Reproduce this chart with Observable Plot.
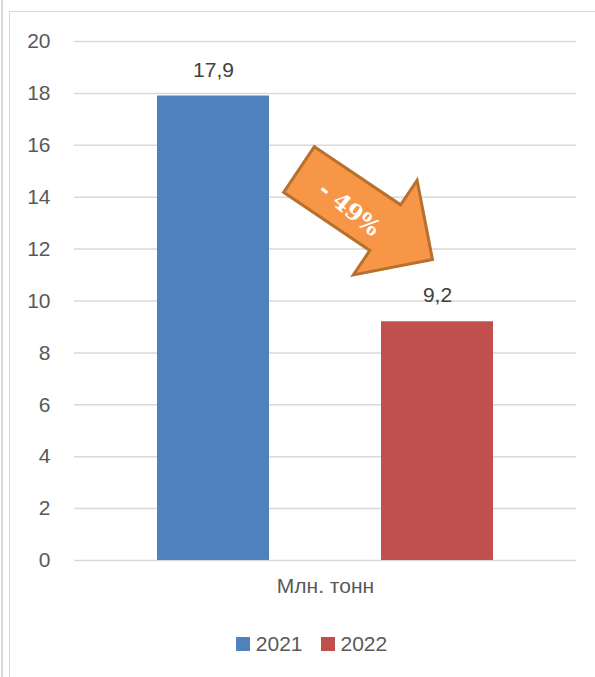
<!DOCTYPE html>
<html>
<head>
<meta charset="utf-8">
<script src="https://cdn.jsdelivr.net/npm/d3@7"></script>
<script src="https://cdn.jsdelivr.net/npm/@observablehq/plot@0.6"></script>
<style>
  html, body { margin: 0; padding: 0; background: #fff; }
  body { width: 595px; height: 677px; position: relative; overflow: hidden; font-family: "Liberation Sans", Arial, sans-serif; }
  #edge { position: absolute; left: 1px; top: 0; width: 1.5px; height: 677px; background: #d9d9d9; }
  #frame { position: absolute; left: 9px; top: 11px; right: -2px; bottom: -2px; border-left: 1.5px solid #d9d9d9; border-top: 1.5px solid #d9d9d9; }
  #chart { position: absolute; left: 0; top: 0; }
  #legend { position: absolute; left: 0; top: 632px; width: 595px; display: flex; justify-content: center; padding-left: 28px; box-sizing: border-box; font-size: 21px; color: #595959; }
  .item { display: flex; align-items: center; margin: 0 9px; }
  .sw { width: 14px; height: 14px; margin-right: 6px; }
</style>
</head>
<body>
<div id="edge"></div>
<div id="frame"></div>
<div id="chart"></div>
<div id="legend"></div>
<script>
const years = ["2021", "2022"];
const values = [17.9, 9.2];
const colors = ["#4F81BD", "#C0504D"];
const yTicks = [0, 2, 4, 6, 8, 10, 12, 14, 16, 18, 20];
const categoryLabel = "Млн. тонн";
const changeLabel = "- 49%";

const data = years.map((y, i) => ({year: y, value: values[i]}));
const fmt = v => v.toLocaleString("ru-RU");

function arrowMark(index, scales) {
  const x = scales.x, y = scales.y;
  const bw = typeof x.bandwidth === "function" ? x.bandwidth() : 112;
  const tx = x(years[0]) + bw + 30;
  const ty = y(values[0]) + 74;
  const g = d3.create("svg:g");
  const pts = [[0, -27.5], [104, -27.5], [104, -57], [161, 0], [104, 57], [104, 27.5], [0, 27.5]];
  g.append("polygon")
    .attr("points", pts.map(p => p.join(",")).join(" "))
    .attr("transform", `translate(${tx},${ty}) rotate(34)`)
    .attr("fill", "#F79646")
    .attr("stroke", "#B8702F")
    .attr("stroke-width", 3)
    .attr("stroke-linejoin", "miter");
  g.append("text")
    .attr("transform", `translate(${tx},${ty}) rotate(34) translate(64,4) rotate(5)`)
    .attr("text-anchor", "middle")
    .attr("dy", "0.35em")
    .attr("fill", "#ffffff")
    .attr("style", "font-family: 'DejaVu Serif', 'Liberation Serif', serif; font-weight: bold; font-size: 23px;")
    .text(changeLabel);
  return g.node();
}

const chart = Plot.plot({
  width: 595,
  height: 610,
  marginTop: 41,
  marginBottom: 50,
  marginLeft: 74,
  marginRight: 19,
  style: {fontFamily: "'Liberation Sans', Arial, sans-serif", fontSize: "21px", color: "#595959", background: "transparent", overflow: "visible"},
  x: {domain: years, paddingInner: 0.502, paddingOuter: 0.369, axis: null},
  y: {domain: [0, 20]},
  color: {domain: years, range: colors},
  marks: [
    Plot.gridY(yTicks, {stroke: "#d9d9d9", strokeOpacity: 1, strokeWidth: 1.5}),
    Plot.axisY(yTicks, {tickSize: 0, tickPadding: 24, fontSize: 21, fill: "#595959", label: null}),
    Plot.barY(data, {x: "year", y: "value", fill: "year"}),
    Plot.text(data, {x: "year", y: "value", text: d => fmt(d.value), dy: -26, fill: "#404040", fontSize: 21}),
    Plot.text([categoryLabel], {text: d => d, frameAnchor: "bottom", dy: 32, fill: "#595959", fontSize: 21}),
    arrowMark
  ]
});
document.getElementById("chart").appendChild(chart);

const legend = document.getElementById("legend");
years.forEach((yr, i) => {
  const item = document.createElement("div");
  item.className = "item";
  const sw = document.createElement("div");
  sw.className = "sw";
  sw.style.background = colors[i];
  const lab = document.createElement("span");
  lab.textContent = yr;
  item.appendChild(sw);
  item.appendChild(lab);
  legend.appendChild(item);
});
</script>
</body>
</html>
